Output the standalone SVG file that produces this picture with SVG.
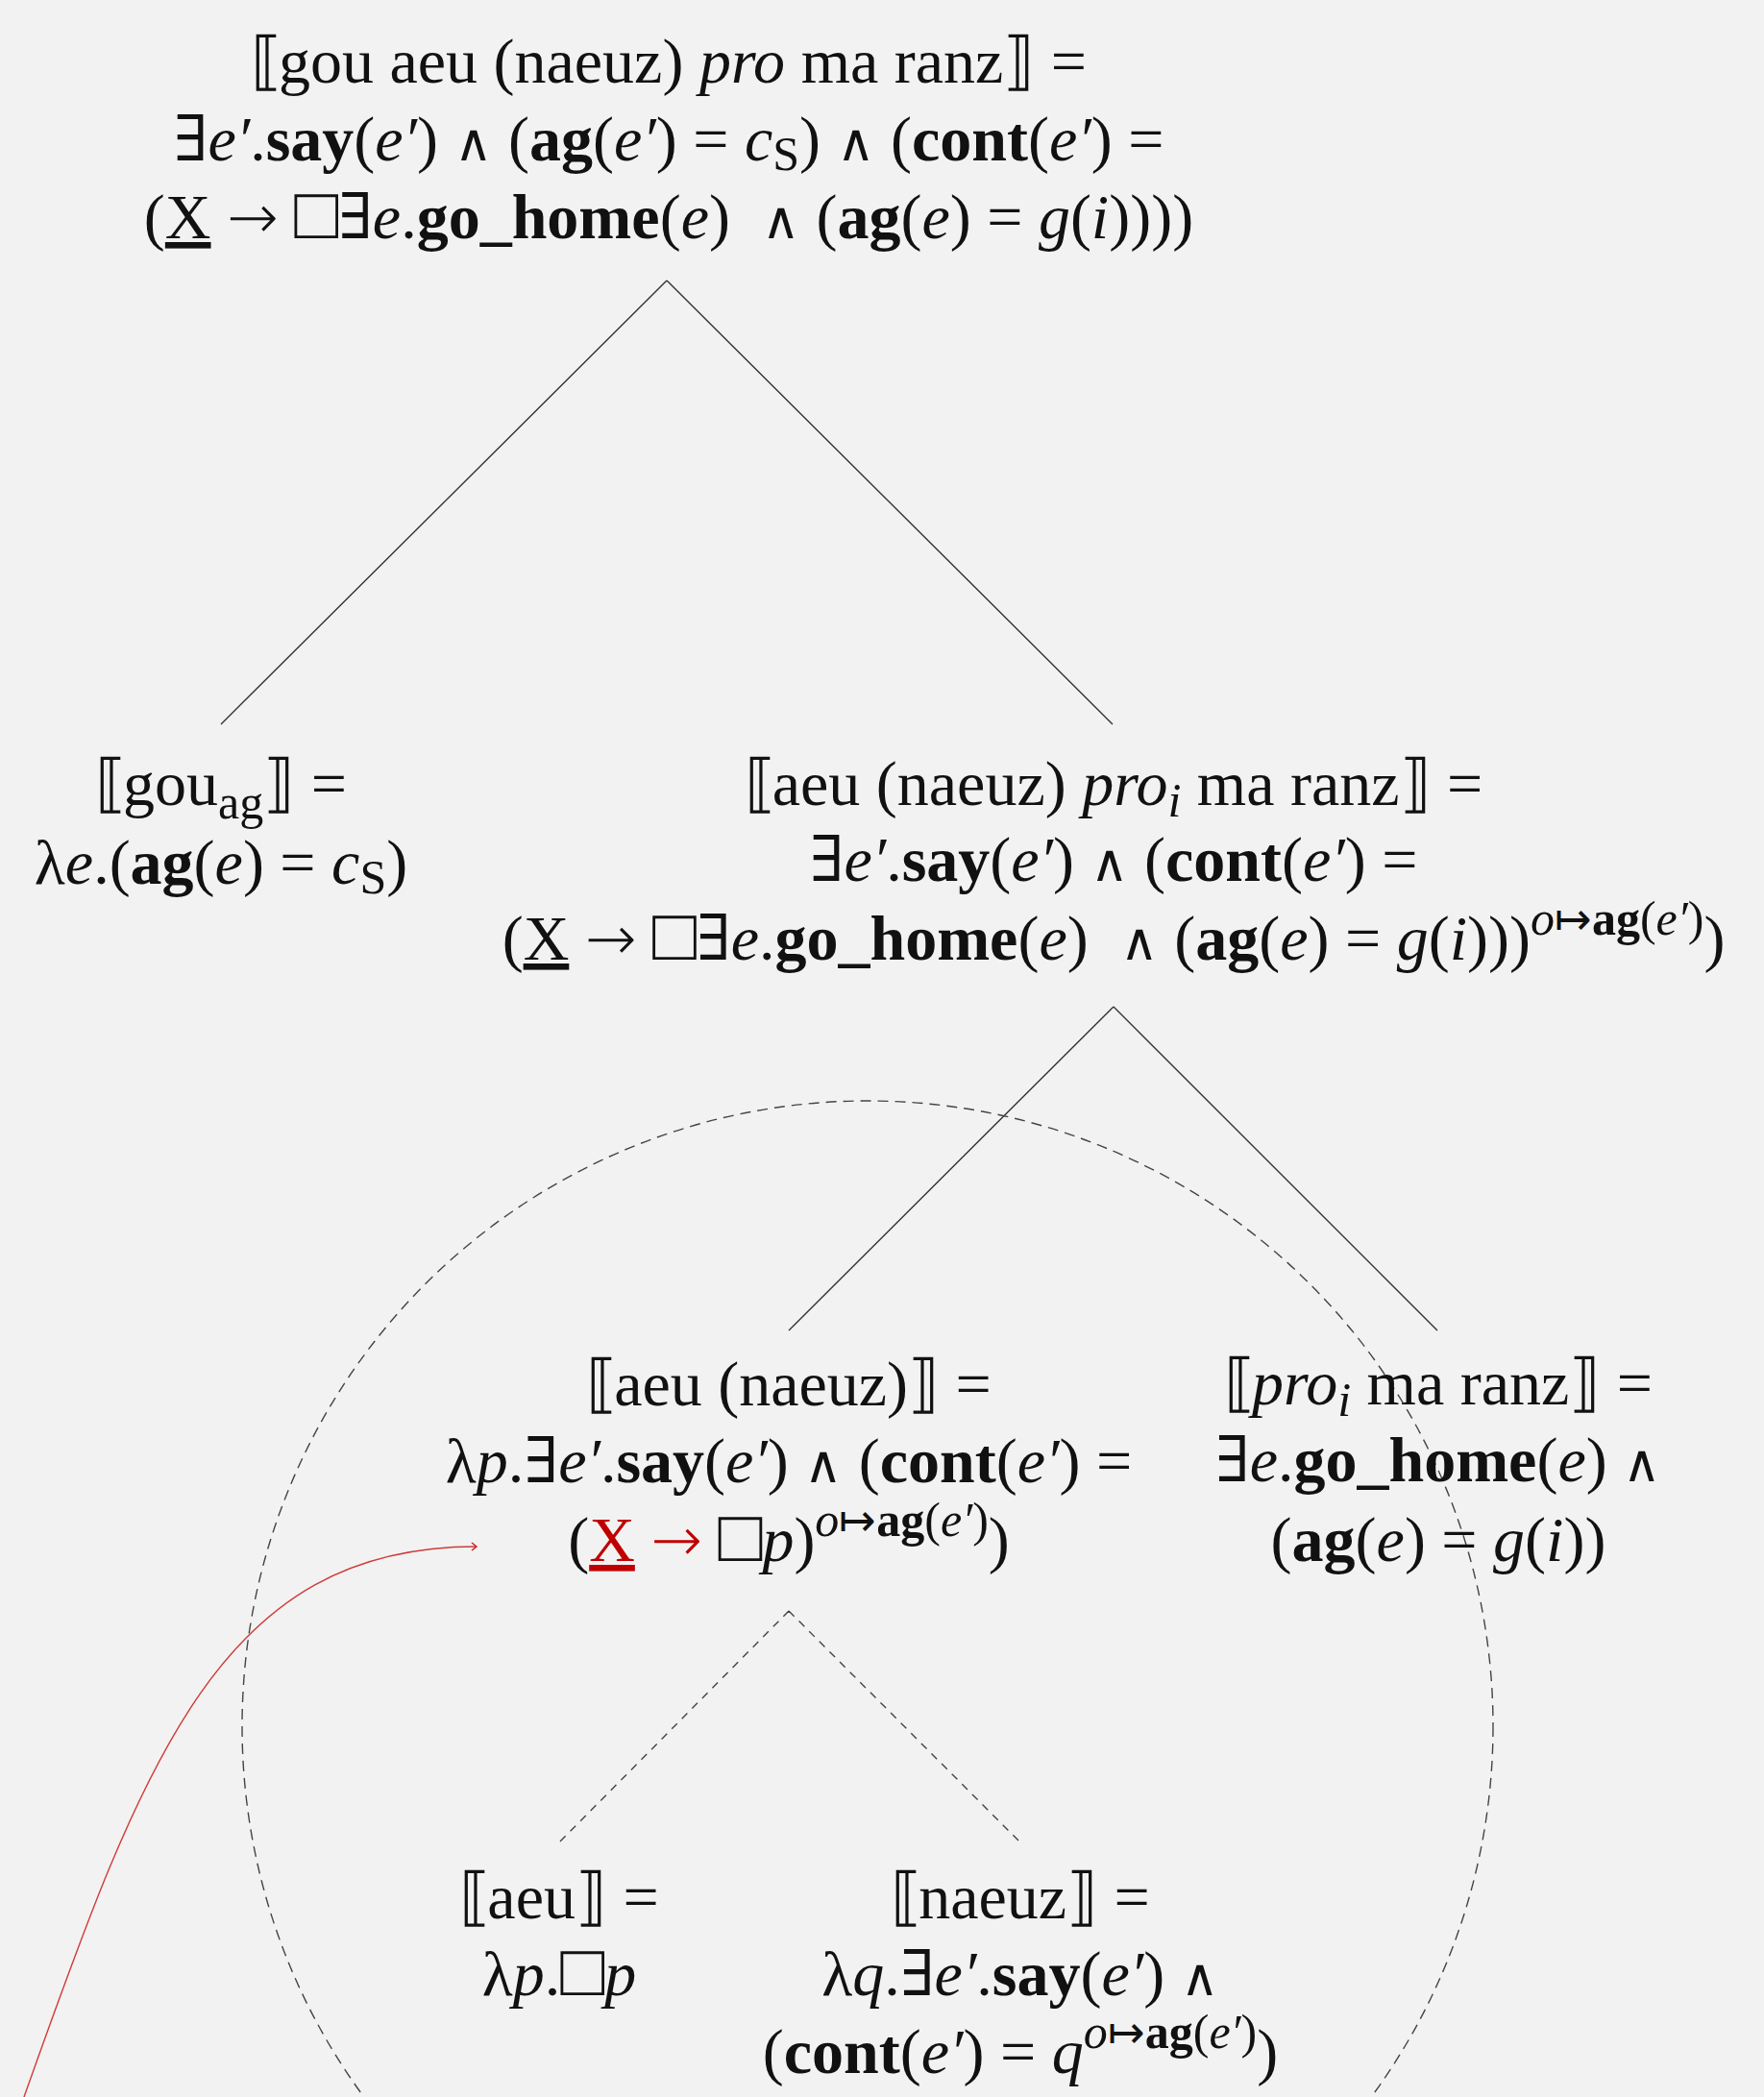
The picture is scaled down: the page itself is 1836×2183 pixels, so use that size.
<svg xmlns="http://www.w3.org/2000/svg" width="1836" height="2183" viewBox="0 0 1836 2183">
<style>
text{font-family:"Liberation Serif","DejaVu Serif",serif;font-size:66px;fill:#111;text-anchor:middle;white-space:pre}
.b{font-weight:bold}
.i{font-style:italic}
.s{font-size:50px}
.u{text-decoration:underline}
.r{fill:#c00000}
.w{font-family:"DejaVu Sans",sans-serif;font-size:54px;font-weight:200}
.a{font-family:"DejaVu Sans",sans-serif;font-size:64px;font-weight:200}
.q{font-family:"DejaVu Sans",sans-serif;font-size:76px;font-weight:200}
.m{font-family:"DejaVu Sans",sans-serif;font-size:46px;font-weight:200}
.edge{stroke:#333;stroke-width:1.4;fill:none}
.dash{stroke:#444;stroke-width:1.4;fill:none;stroke-dasharray:8 7}
.circ{stroke:#444;stroke-width:1.4;fill:none;stroke-dasharray:11 7}
</style>
<defs>
<marker id="ah" markerWidth="12" markerHeight="12" refX="0" refY="0" viewBox="-8 -6 10 12" markerUnits="userSpaceOnUse" orient="auto">
<path d="M-5,-4 L0,0 L-5,4" fill="none" stroke="#cc2222" stroke-width="1.5"/>
</marker>
</defs>
<rect width="1836" height="2183" fill="#f2f2f2"/>
<g id="connectors">
<path class="edge" d="M694,292 L230,754 M694,292 L1158,754"/>
<path class="edge" d="M1159,1048 L821,1385 M1159,1048 L1496,1385"/>
<path class="dash" d="M821,1677 L582,1918 M821,1677 L1062,1918"/>
<circle class="circ" cx="903" cy="1797" r="651"/>
<path d="M25,2183 C150,1830 230,1610 496,1610" fill="none" stroke="#d03a3a" stroke-width="1.4" marker-end="url(#ah)"/>
</g>
<g id="node-root">
<text x="696" y="86">⟦<tspan dx="-4">gou aeu (naeuz) </tspan><tspan class="i">pro</tspan> ma ranz⟧ =</text>
<text x="696" y="167">∃<tspan class="i">e′</tspan>.<tspan class="b">say</tspan>(<tspan class="i">e′</tspan>) <tspan class="w">∧</tspan> (<tspan class="b">ag</tspan>(<tspan class="i">e′</tspan>) = <tspan class="i">c</tspan><tspan class="s" dy="10">S</tspan><tspan dy="-10">) </tspan><tspan class="w">∧</tspan> (<tspan class="b">cont</tspan>(<tspan class="i">e′</tspan>) =</text>
<text x="696" y="248">(<tspan class="u">X</tspan> <tspan class="a">→</tspan> <tspan class="q">□</tspan>∃<tspan class="i">e</tspan>.<tspan class="b">go_home</tspan>(<tspan class="i">e</tspan>)  <tspan class="w">∧</tspan> (<tspan class="b">ag</tspan>(<tspan class="i">e</tspan>) = <tspan class="i">g</tspan>(<tspan class="i">i</tspan>))))</text>
</g>
<g id="node-gou">
<text x="230" y="838">⟦<tspan dx="-4">gou</tspan><tspan class="s" dy="14">ag</tspan><tspan dy="-14">⟧ =</tspan></text>
<text x="230" y="920">λ<tspan class="i">e</tspan>.(<tspan class="b">ag</tspan>(<tspan class="i">e</tspan>) = <tspan class="i">c</tspan><tspan class="s" dy="10">S</tspan><tspan dy="-10">)</tspan></text>
</g>
<g id="node-aeu-naeuz-pro">
<text x="1159" y="838">⟦<tspan dx="-4">aeu (naeuz) </tspan><tspan class="i">pro</tspan><tspan class="s i" dy="12">i</tspan><tspan dy="-12"> ma ranz⟧ =</tspan></text>
<text x="1159" y="917">∃<tspan class="i">e′</tspan>.<tspan class="b">say</tspan>(<tspan class="i">e′</tspan>) <tspan class="w">∧</tspan> (<tspan class="b">cont</tspan>(<tspan class="i">e′</tspan>) =</text>
<text x="1159" y="999">(<tspan class="u">X</tspan> <tspan class="a">→</tspan> <tspan class="q">□</tspan>∃<tspan class="i">e</tspan>.<tspan class="b">go_home</tspan>(<tspan class="i">e</tspan>)  <tspan class="w">∧</tspan> (<tspan class="b">ag</tspan>(<tspan class="i">e</tspan>) = <tspan class="i">g</tspan>(<tspan class="i">i</tspan>)))<tspan class="s i" dy="-26">o</tspan><tspan class="m">↦</tspan><tspan class="s b">ag</tspan><tspan class="s">(</tspan><tspan class="s i">e′</tspan><tspan class="s">)</tspan><tspan dy="26">)</tspan></text>
</g>
<g id="node-aeu-naeuz">
<text x="821" y="1463">⟦<tspan dx="-4">aeu (naeuz)⟧ =</tspan></text>
<text x="821" y="1543">λ<tspan class="i">p</tspan>.∃<tspan class="i">e′</tspan>.<tspan class="b">say</tspan>(<tspan class="i">e′</tspan>) <tspan class="w">∧</tspan> (<tspan class="b">cont</tspan>(<tspan class="i">e′</tspan>) =</text>
<text x="821" y="1625">(<tspan class="r u">X</tspan> <tspan class="r a">→</tspan> <tspan class="q">□</tspan><tspan class="i">p</tspan>)<tspan class="s i" dy="-26">o</tspan><tspan class="m">↦</tspan><tspan class="s b">ag</tspan><tspan class="s">(</tspan><tspan class="s i">e′</tspan><tspan class="s">)</tspan><tspan dy="26">)</tspan></text>
</g>
<g id="node-pro-ma-ranz">
<text x="1497" y="1462">⟦<tspan class="i" dx="-4">pro</tspan><tspan class="s i" dy="12">i</tspan><tspan dy="-12"> ma ranz⟧ =</tspan></text>
<text x="1497" y="1542">∃<tspan class="i">e</tspan>.<tspan class="b">go_home</tspan>(<tspan class="i">e</tspan>) <tspan class="w">∧</tspan></text>
<text x="1497" y="1625">(<tspan class="b">ag</tspan>(<tspan class="i">e</tspan>) = <tspan class="i">g</tspan>(<tspan class="i">i</tspan>))</text>
</g>
<g id="node-aeu">
<text x="582" y="1997">⟦<tspan dx="-4">aeu⟧ =</tspan></text>
<text x="582" y="2077">λ<tspan class="i">p</tspan>.<tspan class="q">□</tspan><tspan class="i">p</tspan></text>
</g>
<g id="node-naeuz">
<text x="1062" y="1997">⟦<tspan dx="-4">naeuz⟧ =</tspan></text>
<text x="1062" y="2077">λ<tspan class="i">q</tspan>.∃<tspan class="i">e′</tspan>.<tspan class="b">say</tspan>(<tspan class="i">e′</tspan>) <tspan class="w">∧</tspan></text>
<text x="1062" y="2158">(<tspan class="b">cont</tspan>(<tspan class="i">e′</tspan>) = <tspan class="i">q</tspan><tspan class="s i" dy="-26">o</tspan><tspan class="m">↦</tspan><tspan class="s b">ag</tspan><tspan class="s">(</tspan><tspan class="s i">e′</tspan><tspan class="s">)</tspan><tspan dy="26">)</tspan></text>
</g>
</svg>
